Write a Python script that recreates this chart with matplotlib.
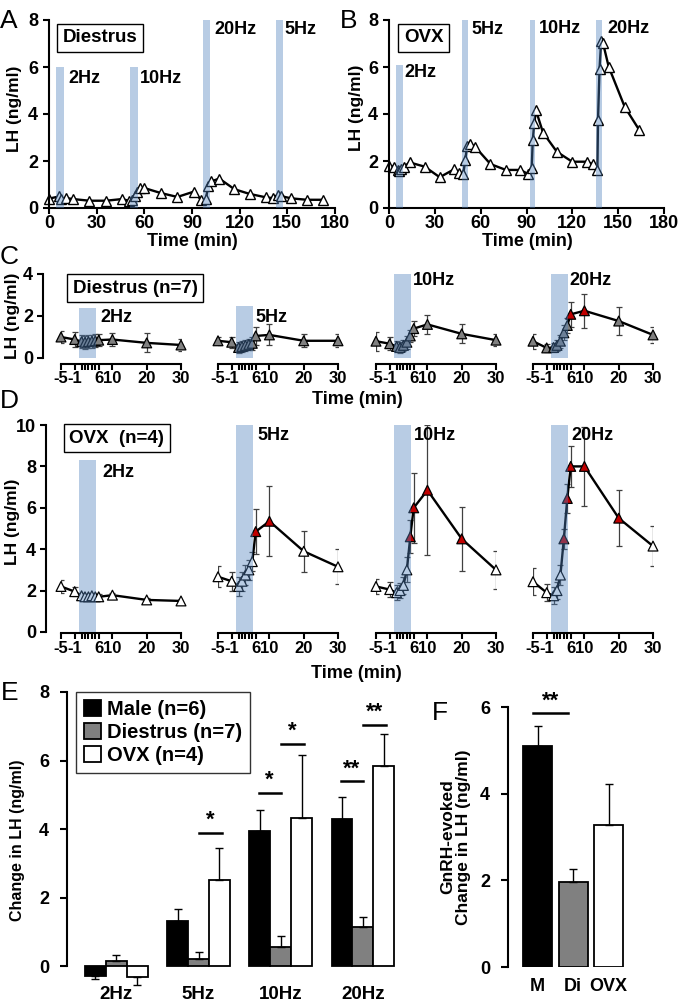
import numpy as np
import matplotlib.pyplot as plt
from matplotlib.patches import Rectangle
from matplotlib.transforms import ScaledTranslation

plt.rcParams['font.family'] = ['Liberation Sans', 'DejaVu Sans']
plt.rcParams['font.weight'] = 'bold'
plt.rcParams['axes.linewidth'] = 1.5

# ---- data: panel A (Diestrus) and B (OVX) single animals ----
A_t = [0, 6.3, 7.8, 11, 15.2, 25.4, 35.9, 45.9, 50.1, 52.2, 54.3, 55.4, 57.1, 60, 70.2, 80.8,
       91.3, 95.6, 98.7, 100.2, 101.9, 107.2, 116.7, 126.2, 136.8, 141, 144.2, 146.3, 152.6, 162.2, 172.7]
A_v = [0.4, 0.49, 0.38, 0.42, 0.38, 0.31, 0.31, 0.38, 0.31, 0.35, 0.5, 0.7, 0.85, 0.85, 0.64, 0.47,
       0.7, 0.35, 0.38, 0.92, 1.13, 1.25, 0.8, 0.6, 0.45, 0.42, 0.57, 0.5, 0.41, 0.35, 0.35]
A_band_start = [4.7, 51, 97, 142.7]
A_band_end = [9.3, 55.8, 101.5, 147.4]
A_band_top = [6, 6, 8, 8]
A_labels = ['2Hz', '10Hz', '20Hz', '5Hz']
A_lab_x = [12, 57, 104, 148]
A_lab_y = [5.5, 5.5, 7.6, 7.6]

B_t = [0, 3.2, 5.7, 6.8, 8, 9.9, 13.5, 23.3, 33.2, 42.7, 45.9, 48.6, 49.9, 51.2, 53.3, 56.4, 66.4,
       76.5, 86, 90.9, 93.4, 94.1, 95.1, 96.2, 100.8, 109.9, 119.9, 129.4, 133.2, 136.4, 136.8,
       137.8, 138.9, 140, 143.8, 154.3, 163.6]
B_v = [1.8, 1.76, 1.62, 1.59, 1.65, 1.76, 1.94, 1.76, 1.31, 1.65, 1.51, 1.45, 2.04, 2.65, 2.72, 2.6,
       1.87, 1.62, 1.62, 1.45, 1.69, 2.89, 3.62, 4.15, 3.21, 2.39, 1.97, 1.97, 1.87, 1.62, 3.73,
       5.92, 7.11, 7.04, 6.01, 4.3, 3.34]
B_band_start = [4.7, 47.6, 92, 135.7]
B_band_end = [8.9, 51.8, 95.6, 139.5]
B_band_top = [6.1, 8, 8, 8]
B_labels = ['2Hz', '5Hz', '10Hz', '20Hz']
B_lab_x = [10.3, 54, 98, 143]
B_lab_y = [5.75, 7.6, 7.65, 7.65]

# ---- data: panel C (Diestrus n=7) and D (OVX n=4) averaged epochs ----
rel_t = [-5, -1, 1, 2, 3, 4, 5, 6, 10, 20, 30]
rel_labels = ['-5', '-1', '', '', '', '', '', '6', '10', '20', '30']
freqs = ['2Hz', '5Hz', '10Hz', '20Hz']

C_mean = [
    [1.0, 0.88, 0.78, 0.75, 0.78, 0.8, 0.82, 0.85, 0.88, 0.72, 0.62],
    [0.82, 0.75, 0.5, 0.55, 0.6, 0.65, 0.7, 1.05, 1.1, 0.82, 0.82],
    [0.8, 0.68, 0.55, 0.5, 0.6, 0.75, 1.05, 1.4, 1.6, 1.15, 0.85],
    [0.8, 0.48, 0.5, 0.6, 0.8, 1.2, 1.55, 2.08, 2.25, 1.76, 1.1],
]
C_err = [
    [0.3, 0.35, 0.3, 0.3, 0.3, 0.3, 0.3, 0.3, 0.3, 0.45, 0.3],
    [0.2, 0.25, 0.25, 0.25, 0.25, 0.25, 0.3, 0.45, 0.5, 0.3, 0.3],
    [0.45, 0.3, 0.25, 0.25, 0.25, 0.3, 0.3, 0.35, 0.45, 0.45, 0.3],
    [0.35, 0.2, 0.2, 0.25, 0.3, 0.35, 0.35, 0.6, 0.8, 0.65, 0.4],
]
C_sig = [[], [], [], [7, 8]]
C_band_top = [2.4, 2.5, 4, 4]
C_lab_x = [6.4, 5.8, 5.8, 5.6]
C_lab_y = [1.95, 1.95, 3.7, 3.7]

D_mean = [
    [2.2, 1.95, 1.75, 1.7, 1.7, 1.75, 1.7, 1.7, 1.78, 1.55, 1.5],
    [2.67, 2.45, 2.2, 2.45, 2.75, 3.0, 3.4, 4.85, 5.35, 3.9, 3.15],
    [2.2, 2.05, 1.9, 2.0, 2.25, 3.0, 4.6, 6.0, 6.85, 4.5, 3.0],
    [2.43, 1.9, 1.75, 2.0, 2.75, 4.5, 6.45, 8.0, 8.0, 5.5, 4.15],
]
D_err = [
    [0.3, 0.2, 0.15, 0.15, 0.15, 0.15, 0.15, 0.12, 0.12, 0.1, 0.1],
    [0.5, 0.45, 0.45, 0.45, 0.5, 0.5, 0.45, 1.1, 1.7, 1.0, 0.85],
    [0.35, 0.35, 0.35, 0.35, 0.4, 0.6, 0.8, 1.7, 3.15, 1.55, 0.9],
    [0.65, 0.4, 0.4, 0.4, 0.5, 0.5, 0.7, 1.0, 1.9, 1.35, 0.95],
]
D_sig = [[], [7, 8], [6, 7, 8, 9], [5, 6, 7, 8, 9]]
D_band_top = [8.3, 10, 10, 10]
D_lab_x = [7.2, 6.4, 6.1, 6.1]
D_lab_y = [7.7, 9.5, 9.5, 9.5]
stim_band = [0.3, 5.2]

# ---- data: panel E and F ----
E_groups = ['2Hz', '5Hz', '10Hz', '20Hz']
E_male = [-0.29, 1.31, 3.94, 4.28]
E_male_err = [0.1, 0.37, 0.63, 0.65]
E_di = [0.155, 0.2, 0.56, 1.13]
E_di_err = [0.17, 0.22, 0.32, 0.31]
E_ovx = [-0.33, 2.5, 4.32, 5.83]
E_ovx_err = [0.22, 0.95, 1.85, 0.93]
E_sig_x0 = [1, 1.73, 2, 2.73, 3]
E_sig_x1 = [1.28, 2, 2.28, 3, 3.28]
E_sig_y = [3.89, 5.06, 6.49, 5.39, 7.04]
E_sig_txt = ['*', '*', '*', '**', '**']

F_groups = ['M', 'Di', 'OVX']
F_vals = [5.1, 1.96, 3.28]
F_err = [0.47, 0.3, 0.95]

BAND = '#4F81BD'
GRAY = '#808080'
RED = '#C00000'

W, H = 680, 1006
fig = plt.figure(figsize=(W / 100, H / 100), dpi=100)


def px_axes(x0, y0, x1, y1):
    return fig.add_axes([x0 / W, 1 - y1 / H, (x1 - x0) / W, (y1 - y0) / H])


def ftext(x, y, s, **kw):
    return fig.text(x / W, 1 - y / H, s, **kw)


def style(ax):
    ax.spines['top'].set_visible(False)
    ax.spines['right'].set_visible(False)
    ax.tick_params(direction='out', length=4, width=1.5, labelsize=13)


def box(ax, x, y, s):
    ax.text(x, y, s, ha='center', va='center', fontsize=13.5, zorder=5,
            bbox=dict(boxstyle='square,pad=0.3', fc='white', ec='black', lw=1))


# ---- A and B ----
for rect, t, v, bs, be, bt, labs, lx, ly, btxt, bx in [
        ((49, 20, 335, 208), A_t, A_v, A_band_start, A_band_end, A_band_top, A_labels, A_lab_x, A_lab_y, 'Diestrus', 32),
        ((389, 20, 664, 208), B_t, B_v, B_band_start, B_band_end, B_band_top, B_labels, B_lab_x, B_lab_y, 'OVX', 22.6)]:
    ax = px_axes(*rect)
    style(ax)
    ax.plot(t, v, color='black', lw=1.7, marker='^', ms=7.5, mfc='white', mec='black', mew=1,
            zorder=2, clip_on=False)
    for s, e, top in zip(bs, be, bt):
        ax.add_patch(Rectangle((s, 0), e - s, top, color=BAND, alpha=0.4, lw=0, zorder=3))
    for s, x, y in zip(labs, lx, ly):
        ax.text(x, y, s, ha='left', va='center', fontsize=13)
    box(ax, bx, 7.25, btxt)
    ax.set_xlim(0, 180)
    ax.set_ylim(0, 8)
    ax.set_xticks([0, 30, 60, 90, 120, 150, 180])
    ax.set_yticks([0, 2, 4, 6, 8])
    ax.tick_params(axis='y', pad=4)
    ax.tick_params(axis='x', pad=1)

# ---- C and D ----
panel_x = [61, 218, 376, 533]
label_shift = [-2, 2.5, 0, 0, 0, 0, 0, -2, 1, 0, 0]
for means, errs, sigs, fill, ytop, ybot, ylim, yticks, tops, lx, ly, btxt, bxy, loff, boff in [
        (C_mean, C_err, C_sig, GRAY, 274, 358, 4, [0, 2, 4], C_band_top, C_lab_x, C_lab_y,
         'Diestrus (n=7)', (16.7, 3.33), 13, 4),
        (D_mean, D_err, D_sig, 'white', 425, 632, 10, [0, 2, 4, 6, 8, 10], D_band_top, D_lab_x, D_lab_y,
         'OVX  (n=4)', (11.3, 9.37), 11, 1)]:
    for i in range(4):
        ax = px_axes(panel_x[i], ytop, panel_x[i] + 120, ybot)
        style(ax)
        ax.errorbar(rel_t, means[i], yerr=errs[i], fmt='none', ecolor='#404040', elinewidth=0.9,
                    capsize=2.5, capthick=0.9, zorder=1)
        ax.plot(rel_t, means[i], color='black', lw=1.7, zorder=2, clip_on=False)
        colors = [RED if k in sigs[i] else fill for k in range(len(rel_t))]
        ax.scatter(rel_t, means[i], marker='^', s=50, c=colors, edgecolors='black', linewidths=0.9,
                   zorder=2.5, clip_on=False)
        ax.add_patch(Rectangle((stim_band[0], 0), stim_band[1] - stim_band[0], tops[i], color=BAND,
                               alpha=0.4, lw=0, zorder=3))
        ax.text(lx[i], ly[i], freqs[i], ha='left', va='center', fontsize=13)
        ax.set_xlim(-5, 30)
        ax.set_ylim(0, ylim)
        ax.set_xticks(rel_t)
        ax.set_xticklabels(rel_labels)
        ax.tick_params(axis='x', labelsize=12, pad=1.5)
        for lab, dx in zip(ax.get_xticklabels(), label_shift):
            lab.set_transform(lab.get_transform() + ScaledTranslation(dx / 100, 0, fig.dpi_scale_trans))
        ax.spines['bottom'].set_position(('outward', boff))
        if i == 0:
            ax.spines['left'].set_position(('outward', loff))
            ax.set_yticks(yticks)
            ax.tick_params(axis='y', pad=3)
            box(ax, bxy[0], bxy[1], btxt)
        else:
            ax.spines['left'].set_visible(False)
            ax.set_yticks([])

# ---- E ----
ax = px_axes(67, 692, 404, 986)
ax.spines['top'].set_visible(False)
ax.spines['right'].set_visible(False)
ax.spines['bottom'].set_visible(False)
ax.spines['left'].set_bounds(0, 8)
ax.tick_params(axis='y', direction='out', length=5, width=1.5, labelsize=13, pad=8)
ax.tick_params(axis='x', length=0, labelsize=13.5, pad=0)
xg = np.arange(len(E_groups))
bw = 0.254
for off, vals, errs, fc, lab in [(-bw, E_male, E_male_err, 'black', 'Male (n=6)'),
                                 (0, E_di, E_di_err, GRAY, 'Diestrus (n=7)'),
                                 (bw, E_ovx, E_ovx_err, 'white', 'OVX (n=4)')]:
    ax.bar(xg + off, vals, bw, color=fc, edgecolor='black', lw=1.3, label=lab, zorder=2)
    lower = [e if v < 0 else 0 for v, e in zip(vals, errs)]
    upper = [e if v >= 0 else 0 for v, e in zip(vals, errs)]
    ax.errorbar(xg + off, vals, yerr=[lower, upper], fmt='none', ecolor='black', elinewidth=1,
                capsize=3, capthick=1, zorder=3)
for x0, x1, y, s in zip(E_sig_x0, E_sig_x1, E_sig_y, E_sig_txt):
    ax.plot([x0, x1], [y, y], color='black', lw=1.8, clip_on=False)
    ax.text((x0 + x1) / 2, y + 0.05, s, ha='center', va='bottom', fontsize=16)
ax.set_xlim(-0.6, 3.5)
ax.set_ylim(-0.58, 8)
ax.set_xticks(xg)
ax.set_xticklabels(E_groups)
ax.set_yticks([0, 2, 4, 6, 8])
leg = ax.legend(loc='upper left', bbox_to_anchor=(0.027, 1.0), borderaxespad=0, fontsize=14.5,
                handlelength=0.85, handleheight=0.85, handletextpad=0.3, labelspacing=0.2,
                borderpad=0.4, fancybox=False, edgecolor='black')
leg.get_frame().set_linewidth(1)

# ---- F ----
ax = px_axes(508, 707, 630, 967)
ax.spines['top'].set_visible(False)
ax.spines['right'].set_visible(False)
ax.spines['bottom'].set_visible(False)
ax.tick_params(axis='y', direction='out', length=5, width=1.5, labelsize=13, pad=8)
ax.tick_params(axis='x', length=0, labelsize=13, pad=8)
xf = np.arange(len(F_groups))
ax.bar(xf, F_vals, 0.82, color=['black', GRAY, 'white'], edgecolor='black', lw=1.3, zorder=2)
ax.errorbar(xf, F_vals, yerr=[[0, 0, 0], F_err], fmt='none', ecolor='black', elinewidth=1,
            capsize=3, capthick=1, zorder=3)
ax.plot([-0.14, 0.87], [5.87, 5.87], color='black', lw=1.8, clip_on=False)
ax.text(0.36, 5.9, '**', ha='center', va='bottom', fontsize=16)
ax.set_xlim(-0.83, 2.6)
ax.set_ylim(0, 6)
ax.set_xticks(xf)
ax.set_xticklabels(F_groups)
ax.set_yticks([0, 2, 4, 6])

# ---- labels ----
ylab = dict(rotation=90, ha='center', va='center', fontsize=12.5)
ftext(15, 109, 'LH (ng/ml)', **ylab)
ftext(357, 108, 'LH (ng/ml)', **ylab)
ftext(13, 316, 'LH (ng/ml)', **ylab)
ftext(13, 522, 'LH (ng/ml)', **ylab)
ftext(18, 840, 'Change in LH (ng/ml)', rotation=90, ha='center', va='center', fontsize=11.5)
ftext(456, 837, 'GnRH-evoked\nChange in LH (ng/ml)', rotation=90, ha='center', va='center',
      fontsize=12.5, multialignment='center', linespacing=1.05)
xlab = dict(ha='center', va='center', fontsize=13)
ftext(192, 242, 'Time (min)', **xlab)
ftext(527, 242, 'Time (min)', **xlab)
ftext(357, 399, 'Time (min)', **xlab)
ftext(356, 674, 'Time (min)', **xlab)

letter = dict(ha='left', va='baseline', fontsize=19, fontweight='normal')
ftext(0, 28, 'A', **letter)
ftext(340, 28, 'B', **letter)
ftext(0, 264, 'C', **letter)
ftext(0, 408, 'D', **letter)
ftext(1, 700, 'E', **letter)
ftext(432, 720, 'F', **letter)

fig.savefig('out.png', dpi=100)
